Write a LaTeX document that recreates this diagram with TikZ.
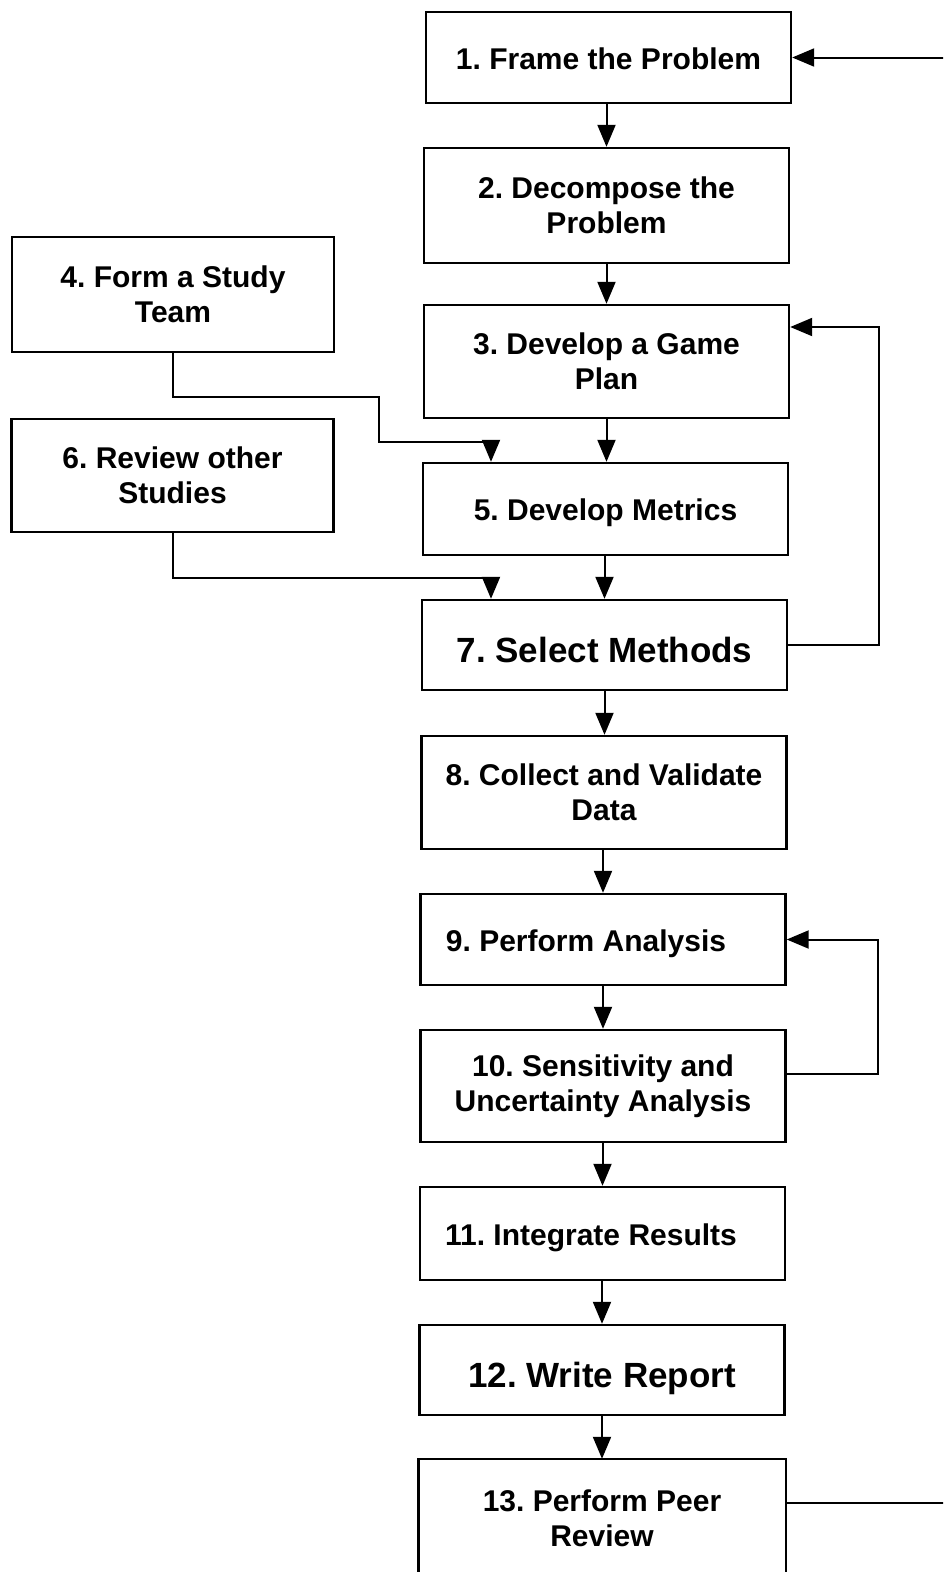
\documentclass[tikz,border=0pt]{standalone}
\usepackage{fontspec}
\setmainfont{Liberation Sans}
\frenchspacing
\usetikzlibrary{arrows.meta}
\tikzset{
  stepbox/.style={draw, line width=2.4pt, inner sep=0pt, align=center,
    font=\bfseries\fontsize{30}{35}\selectfont},
  oneline/.style={text height=23pt, text depth=0pt},
  bigtext/.style={font=\bfseries\fontsize{35}{40}\selectfont, text height=34pt, text depth=0pt},
  wide/.style={minimum width=365pt},
  narrow/.style={minimum width=322pt},
  flow/.style={line width=2pt, -{Triangle[length=22pt,width=18pt]}},
}
\begin{document}
\begin{tikzpicture}[x=1pt, y=-1pt]
\useasboundingbox (0,0) rectangle (943,1572);
\clip (0,0) rectangle (943,1572);
\fill[white] (0,0) rectangle (943,1572);

% main column
\node[stepbox, oneline, wide, minimum height=91pt]  (n1)  at (608.5,57.5)  {1. Frame the Problem};
\node[stepbox, wide, minimum height=115pt] (n2)  at (606.5,205.5) {2. Decompose the\\Problem};
\node[stepbox, wide, minimum height=113pt] (n3)  at (606.5,361.5) {3. Develop a Game\\Plan};
\node[stepbox, oneline, wide, minimum height=92pt]  (n5)  at (605.5,509)   {5. Develop Metrics};
\node[stepbox, bigtext, wide, minimum height=90pt] (n7) at (604.5,645) {7. Select Methods};
\node[stepbox, wide, minimum height=113pt] (n8)  at (604,792.5)   {8. Collect and Validate\\Data};
\node[stepbox, oneline, wide, minimum height=91pt]  (n9)  at (603,939.5)   {9. Perform Analysis\kern34pt};
\node[stepbox, wide, minimum height=112pt] (n10) at (603,1086)    {10. Sensitivity and\\Uncertainty Analysis};
\node[stepbox, oneline, wide, minimum height=93pt]  (n11) at (602.5,1233.5){11. Integrate Results\kern23pt};
\node[stepbox, bigtext, wide, minimum height=90pt] (n12) at (602,1370) {12. Write Report};
\node[stepbox, draw=none, wide, minimum height=116pt] (n13) at (602,1518) {13. Perform Peer\\Review};
\draw[line width=2.4pt] ([yshift=-30pt]n13.south west) -- (n13.north west)
  -- (n13.north east) -- ([yshift=-30pt]n13.south east);

% side inputs
\node[stepbox, narrow, minimum height=115pt] (n4) at (173,294.5)   {4. Form a Study\\Team};
\node[stepbox, narrow, minimum height=113pt] (n6) at (172.5,475.5) {6. Review other\\Studies};

% straight flow
\draw[flow] (n2.north |- n1.south) -- (n2.north);
\draw[flow] (n3.north |- n2.south) -- (n3.north);
\draw[flow] (n3.south) -- (n3.south |- n5.north);
\draw[flow] (n7.north |- n5.south) -- (n7.north);
\draw[flow] (n7.south) -- (n7.south |- n8.north);
\draw[flow] (n9.north |- n8.south) -- (n9.north);
\draw[flow] (n9.south) -- (n9.south |- n10.north);
\draw[flow] (n11.north |- n10.south) -- (n11.north);
\draw[flow] (n12.north |- n11.south) -- (n12.north);
\draw[flow] (n12.south) -- (n12.south |- n13.north);

% side inputs into the column
\draw[flow] (n4.south) |- (379,397) |- (491,442) -- ([xshift=-114.5pt]n5.north);
\draw[flow] (n6.south) |- (491,578) -- ([xshift=-113.5pt]n7.north);

% feedback loops
\draw[flow] (n7.east) -- ++(91,0) |- ([yshift=34.5pt]n3.east);
\draw[flow] ([yshift=12pt]n10.east) -- ++(91,0) |- (n9.east);
\draw[flow] ([yshift=15pt]n13.east) -- ++(200,0) |- (n1.east);
\end{tikzpicture}
\end{document}
